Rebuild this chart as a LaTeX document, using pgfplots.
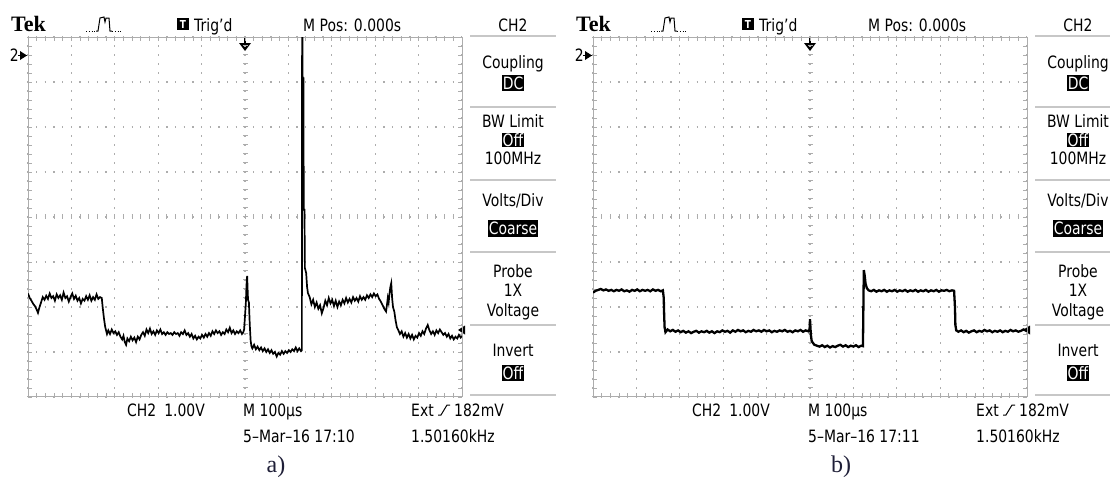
\documentclass[border=0pt]{standalone}
\usepackage{pgfplots}
\pgfplotsset{compat=1.18}
\usepackage{fontspec}
\setmainfont{DejaVu Sans}[FakeStretch=0.82]
\newfontfamily\tekserif{Liberation Serif}
\definecolor{gridc}{gray}{0.68}
\definecolor{labelc}{RGB}{30,30,55}

\pgfplotsset{tekscope/.style={
    scale only axis, width=434bp, height=360bp,
    xmin=-500, xmax=500, ymin=-4, ymax=4,
    xtick={-500,-400,...,500}, ytick={-4,-3,...,4},
    xticklabels={}, yticklabels={},
    minor x tick num=4, minor y tick num=4,
    tick align=inside, major tick length=4bp, minor tick length=4bp,
    tick style={gridc, line width=0.8bp},
    axis line style={gridc, line width=1bp},
    xmajorgrids, ymajorgrids,
    major x grid style={gridc, line width=1.3bp, dash pattern=on 1.3bp off 7.7bp, dash phase=0.65bp},
    major y grid style={gridc, line width=1.3bp, dash pattern=on 1.3bp off 7.38bp, dash phase=0.65bp},
}}

% common screen furniture, #1 = x shift, #2 = clock, #3 = caption
\newcommand\tekpanel[3]{%
\begin{scope}[xshift=#1bp, x=1bp, y=-1bp, font=\fontsize{17bp}{18bp}\selectfont]
  \node[anchor=base west, inner sep=0, font=\tekserif\bfseries\fontsize{22bp}{24bp}\selectfont] at (11,31) {Tek};
  % acquisition icon
  \draw[line width=0.8bp, dotted] (86,31) -- (96,31);
  \draw[line width=1bp] (96,31) -- (98,31) -- (100,18) -- (104,17) -- (105,22) -- (106,18) -- (109,18) -- (110,31) -- (112,31);
  \draw[line width=0.8bp, dotted] (112,31) -- (122,31);
  \fill (177,18) rectangle (189,30);
  \node[white, inner sep=0, font=\bfseries\fontsize{11bp}{11bp}\selectfont] at (183,24) {T};
  \node[anchor=base west, inner sep=0] at (194,31) {Trig’d};
  \node[anchor=base west, inner sep=0] at (303,31) {M Pos: 0.000s};
  \node[anchor=base, inner sep=0] at (513,31) {CH2};
  % menu
  \foreach \yy in {36,107,180,252,325,395} \draw[black!22, line width=1.5bp] (470,\yy) -- (556,\yy);
  \node[anchor=base, inner sep=0] at (513,68) {Coupling};
  \node[fill=black, text=white, inner xsep=1bp, inner ysep=0pt, minimum height=16bp] at (513,83) {DC};
  \node[anchor=base, inner sep=0] at (513,127) {BW Limit};
  \node[fill=black, text=white, inner xsep=1bp, inner ysep=0pt, minimum height=14.5bp] at (513,140) {Off};
  \node[anchor=base, inner sep=0] at (513,164) {100MHz};
  \node[anchor=base, inner sep=0] at (513,206) {Volts/Div};
  \node[fill=black, text=white, inner xsep=1bp, inner ysep=0pt, minimum height=17bp] at (513,228) {Coarse};
  \node[anchor=base, inner sep=0] at (513,277) {Probe};
  \node[anchor=base, inner sep=0] at (513,296) {1X};
  \node[anchor=base, inner sep=0] at (513,316) {Voltage};
  \node[anchor=base, inner sep=0] at (513,356) {Invert};
  \node[fill=black, text=white, inner xsep=1bp, inner ysep=0pt, minimum height=16bp] at (513,373) {Off};
  % markers
  \node[anchor=base east, inner sep=0] at (19,61) {2};
  \draw[line width=1bp] (18,55.5) -- (27,55.5);
  \fill (20,51) -- (27,55.5) -- (20,60) -- cycle;
  \draw[line width=2.2bp] (245,38) -- (245,45);
  \fill (239,43) -- (251,43) -- (245,51) -- cycle;
  \fill (458,330) -- (465,325.5) -- (465,334.5) -- cycle;
  % readout
  \node[anchor=base west, inner sep=0] at (127,416) {CH2\hspace{8bp}1.00V};
  \node[anchor=base west, inner sep=0] at (243,416) {M 100µs};
  \node[anchor=base west, inner sep=0] at (411,416) {Ext};
  \draw[line width=1bp] (438,415) -- (441,415) -- (447,405) -- (450,405);
  \node[anchor=base west, inner sep=0] at (454,416) {182mV};
  \node[anchor=base west, inner sep=0] at (243,442) {5–Mar–16 #2};
  \node[anchor=base west, inner sep=0] at (411,442) {1.50160kHz};
  \node[labelc, font=\tekserif\fontsize{24bp}{26bp}\selectfont] at (276,467) {#3};
\end{scope}}

\begin{document}
\begin{tikzpicture}
\useasboundingbox (0,0) rectangle (1110bp,-488bp);
\tekpanel{0}{17:10}{a)}
\tekpanel{565}{17:11}{b)}

% ---- a) ----
\begin{axis}[tekscope, at={(28bp,-37bp)}, anchor=north west]
\draw[gridc, line width=5bp, dash pattern=on 1bp off 8bp, dash phase=0.5bp] (axis cs:0,-4) -- (axis cs:0,4);
\draw[gridc, line width=5bp, dash pattern=on 1bp off 7.68bp, dash phase=0.5bp] (axis cs:-500,0) -- (axis cs:500,0);
\addplot[black, line width=1.7bp] coordinates {
(-500,-1.70)(-496,-1.80)(-492,-1.86)(-488,-1.93)(-484,-1.98)(-480,-2.06)(-477,-2.13)(-474,-2.02)
(-470,-1.90)(-466,-1.78)(-462,-1.84)(-458,-1.75)(-454,-1.82)(-450,-1.70)(-446,-1.80)(-442,-1.76)
(-438,-1.86)(-434,-1.72)(-430,-1.80)(-426,-1.74)(-422,-1.84)(-418,-1.68)(-414,-1.80)(-410,-1.76)
(-406,-1.88)(-402,-1.78)(-398,-1.70)(-394,-1.82)(-390,-1.75)(-386,-1.86)(-382,-1.80)(-378,-1.92)
(-374,-1.82)(-370,-1.86)(-366,-1.76)(-362,-1.84)(-358,-1.74)(-354,-1.86)(-350,-1.78)(-346,-1.84)
(-342,-1.72)(-338,-1.82)(-334,-1.78)(-330,-1.80)
(-328,-2.00)(-325,-2.25)(-322,-2.45)(-318,-2.60)
(-315,-2.52)(-311,-2.60)(-307,-2.50)(-303,-2.58)(-299,-2.54)(-295,-2.62)(-291,-2.56)(-287,-2.66)
(-283,-2.72)(-280,-2.64)(-277,-2.78)(-274,-2.84)(-271,-2.70)(-267,-2.76)(-263,-2.66)(-259,-2.74)
(-255,-2.68)(-251,-2.78)(-247,-2.66)(-243,-2.72)(-239,-2.62)(-235,-2.56)(-231,-2.64)(-227,-2.50)
(-223,-2.58)(-219,-2.48)(-215,-2.60)(-211,-2.54)(-207,-2.62)(-203,-2.52)(-199,-2.58)(-195,-2.50)
(-191,-2.60)(-187,-2.56)(-183,-2.62)(-179,-2.56)(-175,-2.60)(-171,-2.58)(-167,-2.62)(-163,-2.56)
(-159,-2.60)(-155,-2.58)(-151,-2.64)(-147,-2.56)(-143,-2.60)(-139,-2.52)(-135,-2.62)(-131,-2.58)
(-127,-2.66)(-123,-2.60)(-119,-2.70)(-115,-2.64)(-111,-2.72)(-107,-2.66)(-103,-2.70)(-99,-2.62)
(-95,-2.68)(-91,-2.60)(-87,-2.66)(-83,-2.58)(-79,-2.64)(-75,-2.54)(-71,-2.60)(-67,-2.52)
(-63,-2.58)(-59,-2.54)(-55,-2.62)(-51,-2.56)(-47,-2.60)(-43,-2.50)(-39,-2.56)(-35,-2.46)
(-31,-2.58)(-27,-2.52)(-23,-2.60)(-19,-2.54)(-15,-2.58)(-11,-2.52)(-7,-2.60)(-4,-2.56)
(-2,-2.50)(0,-2.20)(2,-1.90)(4,-1.40)(5,-1.31)(6,-1.60)(7,-1.84)(9,-1.90)(11,-2.40)(13,-2.75)(15,-2.88)
(17,-2.92)(21,-2.84)(25,-2.94)(29,-2.88)(33,-2.96)(37,-2.90)(41,-2.98)(45,-2.92)
(49,-3.00)(53,-2.94)(57,-3.02)(61,-2.96)(65,-3.04)(69,-3.00)(73,-3.10)(77,-3.02)
(81,-3.06)(85,-2.98)(89,-3.04)(93,-2.98)(97,-3.02)(101,-2.96)(105,-3.00)(109,-2.94)
(113,-2.98)(117,-2.90)(121,-2.98)(125,-2.92)(129,-2.98)(131,-2.96)
(131.6,4.0)(132.6,4.0)(133.6,0.2)(134.6,3.1)(135.4,0.16)(137,0.16)(138,-1.13)
(141,-1.25)(143,-1.55)(145,-1.69)
(149,-1.78)(153,-1.94)(157,-1.84)(161,-2.00)(165,-1.90)(169,-2.04)(173,-1.96)(177,-2.14)
(181,-2.02)(185,-1.86)(189,-1.96)(193,-1.80)(197,-1.92)(201,-1.84)(205,-1.98)(209,-1.86)
(213,-2.00)(217,-1.88)(221,-1.96)(225,-1.84)(229,-1.92)(233,-1.80)(237,-1.90)(241,-1.82)
(245,-1.90)(249,-1.78)(253,-1.86)(257,-1.80)(261,-1.88)(265,-1.76)(269,-1.84)(273,-1.78)
(277,-1.84)(281,-1.74)(285,-1.80)(289,-1.72)(293,-1.78)(297,-1.70)(301,-1.76)(305,-1.72)
(309,-1.82)(313,-1.88)(317,-1.96)(321,-2.04)(325,-2.10)(327,-1.96)(329,-1.80)(331,-1.90)
(333,-1.70)(335,-1.55)(337,-1.47)(339,-1.80)(341,-2.00)(344,-2.10)(347,-2.30)(350,-2.45)(353,-2.51)
(357,-2.60)(361,-2.54)(365,-2.66)(369,-2.58)(373,-2.68)(377,-2.60)(381,-2.70)(385,-2.62)
(389,-2.72)(393,-2.64)(397,-2.68)(401,-2.58)(405,-2.64)(409,-2.54)(413,-2.60)(417,-2.48)
(421,-2.40)(425,-2.52)(429,-2.60)(433,-2.54)(437,-2.62)(441,-2.52)(445,-2.58)(449,-2.50)
(453,-2.56)(457,-2.62)(461,-2.58)(465,-2.66)(469,-2.60)(473,-2.70)(477,-2.64)(481,-2.72)
(485,-2.66)(489,-2.70)(493,-2.62)(497,-2.68)(500,-2.64)
};
\end{axis}

% ---- b) ----
\begin{axis}[tekscope, at={(593bp,-37bp)}, anchor=north west]
\draw[gridc, line width=5bp, dash pattern=on 1bp off 8bp, dash phase=0.5bp] (axis cs:0,-4) -- (axis cs:0,4);
\draw[gridc, line width=5bp, dash pattern=on 1bp off 7.68bp, dash phase=0.5bp] (axis cs:-500,0) -- (axis cs:500,0);
\addplot[black, line width=2.3bp] coordinates {
(-500,-1.68)(-494,-1.64)(-488,-1.62)(-482,-1.60)(-476,-1.63)(-470,-1.61)(-464,-1.64)(-458,-1.62)
(-452,-1.65)(-446,-1.62)(-440,-1.64)(-434,-1.61)(-428,-1.65)(-422,-1.63)(-416,-1.66)(-410,-1.62)
(-404,-1.64)(-398,-1.61)(-392,-1.65)(-386,-1.62)(-380,-1.64)(-374,-1.62)(-368,-1.65)(-362,-1.61)
(-356,-1.64)(-350,-1.62)(-344,-1.65)(-339,-1.63)
(-337,-1.80)(-336,-2.20)(-335,-2.45)(-333,-2.56)
(-328,-2.50)(-322,-2.54)(-316,-2.51)(-310,-2.55)(-304,-2.52)(-298,-2.56)(-292,-2.53)(-286,-2.57)
(-280,-2.54)(-274,-2.58)(-268,-2.55)(-262,-2.53)(-256,-2.57)(-250,-2.54)(-244,-2.56)(-238,-2.53)
(-232,-2.57)(-226,-2.54)(-220,-2.58)(-214,-2.54)(-208,-2.56)(-202,-2.52)(-196,-2.55)(-190,-2.53)
(-184,-2.57)(-178,-2.52)(-172,-2.55)(-166,-2.51)(-160,-2.54)(-154,-2.52)(-148,-2.56)(-142,-2.53)
(-136,-2.55)(-130,-2.51)(-124,-2.54)(-118,-2.52)(-112,-2.55)(-106,-2.51)(-100,-2.54)(-94,-2.52)
(-88,-2.56)(-82,-2.53)(-76,-2.55)(-70,-2.52)(-64,-2.54)(-58,-2.51)(-52,-2.55)(-46,-2.53)
(-40,-2.56)(-34,-2.52)(-28,-2.54)(-22,-2.51)(-16,-2.55)(-10,-2.52)(-4,-2.54)
(-1,-2.50)(0,-2.27)(1,-2.45)(2,-2.62)(4,-2.76)(7,-2.80)(10,-2.84)
(16,-2.86)(22,-2.88)(28,-2.85)(34,-2.89)(40,-2.86)(46,-2.90)(52,-2.87)(58,-2.89)
(64,-2.86)(70,-2.84)(76,-2.88)(82,-2.85)(88,-2.89)(94,-2.86)(100,-2.88)(106,-2.85)
(112,-2.89)(118,-2.86)(122,-2.87)
(123,-2.00)(124,-1.18)(126,-1.30)(128,-1.48)(131,-1.58)(135,-1.63)
(141,-1.65)(147,-1.62)(153,-1.66)(159,-1.63)(165,-1.65)(171,-1.62)(177,-1.66)(183,-1.63)
(189,-1.65)(195,-1.62)(201,-1.66)(207,-1.63)(213,-1.65)(219,-1.62)(225,-1.66)(231,-1.63)
(237,-1.65)(243,-1.62)(249,-1.66)(255,-1.63)(261,-1.65)(267,-1.62)(273,-1.66)(279,-1.63)
(285,-1.65)(291,-1.62)(297,-1.66)(303,-1.63)(309,-1.64)(315,-1.62)(321,-1.65)(327,-1.63)(332,-1.64)
(334,-2.00)(335,-2.40)(337,-2.52)
(342,-2.55)(348,-2.52)(354,-2.56)(360,-2.53)(366,-2.57)(372,-2.54)(378,-2.52)(384,-2.56)
(390,-2.53)(396,-2.55)(402,-2.51)(408,-2.54)(414,-2.52)(420,-2.56)(426,-2.53)(432,-2.55)
(438,-2.52)(444,-2.56)(450,-2.53)(456,-2.55)(462,-2.51)(468,-2.54)(474,-2.52)(480,-2.55)
(486,-2.53)(492,-2.50)(500,-2.53)
};
\end{axis}
\end{tikzpicture}
\end{document}
